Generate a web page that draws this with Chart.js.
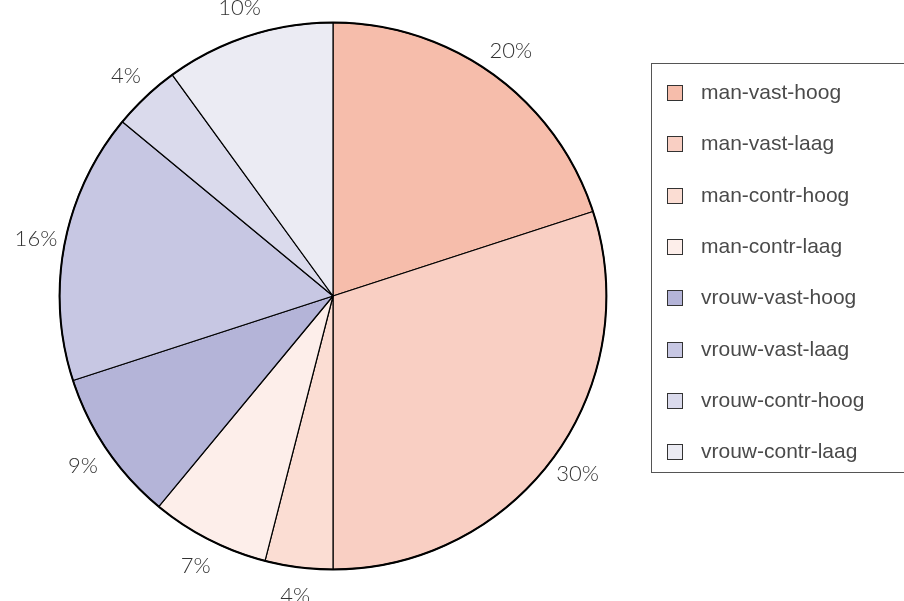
<!DOCTYPE html>
<html>
<head>
<meta charset="utf-8">
<script src="https://cdn.jsdelivr.net/npm/chart.js@4"></script>
<style>
  body { margin: 0; background: #fff; }
  #wrap { position: relative; width: 904px; height: 601px; overflow: hidden; }
  #legend {
    position: absolute; left: 651px; top: 63px; width: 280px; height: 410px;
    border: 1px solid #555; box-sizing: border-box;
    font-family: "Liberation Sans", Arial, sans-serif; font-size: 21px; color: #4a4a4a;
  }
  .item { position: absolute; left: 15px; height: 22px; line-height: 22px; white-space: nowrap; }
  .sw { position: absolute; left: 0; top: 3px; width: 16px; height: 16px; box-sizing: border-box; border: 1.5px solid #333; }
  .lbl { position: absolute; left: 34px; top: -1px; }
</style>
</head>
<body>
<div id="wrap">
  <canvas id="pie" width="904" height="601"></canvas>
  <div id="legend"></div>
</div>
<script>
const categories = ['man-vast-hoog', 'man-vast-laag', 'man-contr-hoog', 'man-contr-laag',
                    'vrouw-vast-hoog', 'vrouw-vast-laag', 'vrouw-contr-hoog', 'vrouw-contr-laag'];
const shares = [20, 30, 4, 7, 9, 16, 4, 10];
const colors = ['#f6bdab', '#f9cfc3', '#fbddd3', '#fdeeea',
                '#b4b4d8', '#c7c7e3', '#dadaec', '#ebebf3'];

// heavier rim around the whole pie, then percent labels just outside it
const rimAndLabels = {
  id: 'rimAndLabels',
  afterDatasetsDraw(chart) {
    const ctx = chart.ctx;
    const meta = chart.getDatasetMeta(0);
    const first = meta.data[0].getProps(['x', 'y', 'outerRadius'], true);
    ctx.save();
    ctx.beginPath();
    ctx.arc(first.x, first.y, first.outerRadius, 0, Math.PI * 2);
    ctx.lineWidth = 2;
    ctx.strokeStyle = '#000';
    ctx.stroke();

    ctx.font = '300 22px Lato, "Open Sans", sans-serif';
    ctx.fillStyle = '#333';
    ctx.textAlign = 'center';
    ctx.textBaseline = 'middle';
    meta.data.forEach((arc, i) => {
      const p = arc.getProps(['x', 'y', 'startAngle', 'endAngle', 'outerRadius'], true);
      const mid = (p.startAngle + p.endAngle) / 2;
      const d = p.outerRadius + 29;
      ctx.fillText(shares[i] + '%', p.x + Math.cos(mid) * d, p.y + Math.sin(mid) * d);
    });
    ctx.restore();
  }
};

new Chart(document.getElementById('pie'), {
  type: 'pie',
  data: {
    labels: categories,
    datasets: [{
      data: shares,
      backgroundColor: colors,
      borderColor: '#000',
      borderWidth: 1.2,
      hoverOffset: 0
    }]
  },
  options: {
    responsive: false,
    animation: false,
    layout: { padding: { left: 59, right: 297, top: 22, bottom: 31 } },
    plugins: {
      legend: { display: false },
      tooltip: { enabled: false }
    }
  },
  plugins: [rimAndLabels]
});

// legend box on the right
const legend = document.getElementById('legend');
categories.forEach((name, i) => {
  const item = document.createElement('div');
  item.className = 'item';
  item.style.top = (18 + i * 51.3) + 'px';
  item.innerHTML = '<span class="sw" style="background:' + colors[i] + '"></span><span class="lbl">' + name + '</span>';
  legend.appendChild(item);
});
</script>
</body>
</html>
